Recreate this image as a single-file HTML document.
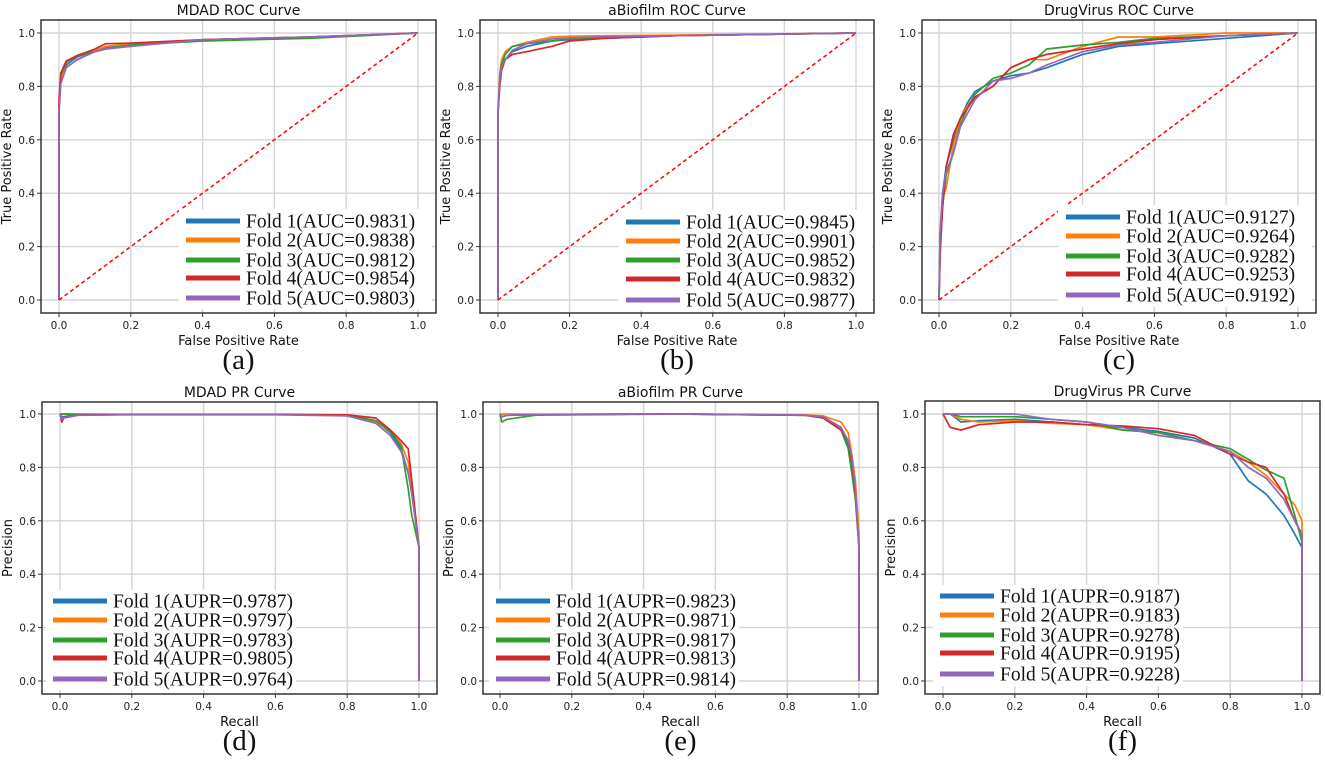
<!DOCTYPE html>
<html><head><meta charset="utf-8"><style>
html,body{margin:0;padding:0;background:#fff;}
svg{display:block;}
</style></head><body>
<svg id="fig" width="1325" height="762" viewBox="0 0 1325 762" xmlns="http://www.w3.org/2000/svg"></svg>
<script>
// ---------- data ----------
const foldNames = ["Fold 1", "Fold 2", "Fold 3", "Fold 4", "Fold 5"];
const ticks = [0, 0.2, 0.4, 0.6, 0.8, 1.0];
const tickLabels = ["0.0", "0.2", "0.4", "0.6", "0.8", "1.0"];

const aucMDAD = ["0.9831", "0.9838", "0.9812", "0.9854", "0.9803"];
const aucBio = ["0.9845", "0.9901", "0.9852", "0.9832", "0.9877"];
const aucVirus = ["0.9127", "0.9264", "0.9282", "0.9253", "0.9192"];
const auprMDAD = ["0.9787", "0.9797", "0.9783", "0.9805", "0.9764"];
const auprBio = ["0.9823", "0.9871", "0.9817", "0.9813", "0.9814"];
const auprVirus = ["0.9187", "0.9183", "0.9278", "0.9195", "0.9228"];

const rocMDADx = [0, 0, 0.005, 0.02, 0.05, 0.1, 0.13, 0.2, 0.4, 0.7, 1];
const rocMDADy = [
  [0, 0.72, 0.82, 0.88, 0.91, 0.935, 0.945, 0.955, 0.975, 0.985, 1],
  [0, 0.7, 0.83, 0.87, 0.9, 0.935, 0.95, 0.96, 0.975, 0.985, 1],
  [0, 0.72, 0.84, 0.89, 0.915, 0.93, 0.94, 0.955, 0.97, 0.98, 1],
  [0, 0.75, 0.85, 0.895, 0.915, 0.94, 0.96, 0.962, 0.975, 0.985, 1],
  [0, 0.7, 0.81, 0.87, 0.9, 0.93, 0.94, 0.95, 0.975, 0.985, 1]
];
const rocBiox = [0, 0, 0.005, 0.01, 0.02, 0.04, 0.08, 0.15, 0.2, 0.3, 0.5, 1];
const rocBioy = [
  [0, 0.7, 0.82, 0.87, 0.9, 0.93, 0.95, 0.97, 0.975, 0.985, 0.99, 1],
  [0, 0.72, 0.85, 0.9, 0.93, 0.95, 0.965, 0.985, 0.988, 0.99, 0.992, 1],
  [0, 0.7, 0.83, 0.88, 0.92, 0.95, 0.96, 0.97, 0.978, 0.98, 0.99, 1],
  [0, 0.7, 0.8, 0.86, 0.9, 0.92, 0.93, 0.95, 0.97, 0.98, 0.99, 1],
  [0, 0.7, 0.82, 0.87, 0.9, 0.935, 0.96, 0.978, 0.982, 0.986, 0.99, 1]
];
const rocVirusx = [0, 0.003, 0.01, 0.02, 0.04, 0.06, 0.08, 0.1, 0.15, 0.2, 0.25, 0.3, 0.4, 0.5, 0.6, 0.8, 1];
const rocVirusy = [
  [0, 0.25, 0.4, 0.5, 0.6, 0.68, 0.74, 0.78, 0.82, 0.84, 0.85, 0.87, 0.92, 0.95, 0.96, 0.98, 1],
  [0, 0.15, 0.38, 0.42, 0.58, 0.68, 0.73, 0.76, 0.8, 0.87, 0.9, 0.9, 0.95, 0.985, 0.985, 1, 1],
  [0, 0.2, 0.35, 0.47, 0.55, 0.66, 0.72, 0.77, 0.83, 0.85, 0.88, 0.94, 0.955, 0.965, 0.98, 0.99, 1],
  [0, 0.18, 0.35, 0.5, 0.62, 0.68, 0.72, 0.76, 0.8, 0.87, 0.9, 0.92, 0.94, 0.96, 0.975, 0.99, 1],
  [0, 0.25, 0.4, 0.48, 0.55, 0.65, 0.7, 0.75, 0.82, 0.83, 0.85, 0.88, 0.93, 0.955, 0.965, 0.99, 1]
];
const prMDADx = [0, 0.005, 0.01, 0.05, 0.2, 0.6, 0.8, 0.88, 0.92, 0.95, 0.97, 0.98, 1, 1];
const prMDADy = [
  [1, 0.99, 0.99, 0.998, 0.998, 0.998, 0.995, 0.975, 0.93, 0.87, 0.78, 0.72, 0.5, 0],
  [1, 1, 1, 1, 0.998, 0.998, 0.996, 0.97, 0.935, 0.89, 0.82, 0.72, 0.5, 0],
  [1, 1, 1, 0.998, 0.998, 0.998, 0.995, 0.975, 0.935, 0.88, 0.72, 0.62, 0.5, 0],
  [1, 0.97, 0.985, 0.996, 0.998, 0.998, 0.997, 0.985, 0.94, 0.9, 0.87, 0.75, 0.5, 0],
  [1, 0.98, 0.985, 0.995, 0.997, 0.997, 0.993, 0.965, 0.92, 0.86, 0.78, 0.7, 0.5, 0]
];
const prBiox = [0, 0.005, 0.02, 0.1, 0.5, 0.85, 0.9, 0.95, 0.97, 0.98, 0.99, 1, 1];
const prBioy = [
  [1, 0.99, 0.995, 0.998, 1, 0.995, 0.99, 0.95, 0.88, 0.8, 0.7, 0.5, 0],
  [1, 1, 1, 0.999, 1, 0.997, 0.993, 0.97, 0.93, 0.85, 0.75, 0.55, 0],
  [1, 0.97, 0.98, 0.996, 1, 0.995, 0.99, 0.94, 0.87, 0.78, 0.68, 0.5, 0],
  [1, 0.99, 0.995, 0.998, 1, 0.995, 0.985, 0.94, 0.9, 0.82, 0.7, 0.5, 0],
  [1, 0.99, 0.995, 0.998, 1, 0.996, 0.99, 0.95, 0.9, 0.84, 0.72, 0.5, 0]
];
const prVirusx = [0, 0.02, 0.05, 0.1, 0.2, 0.3, 0.4, 0.5, 0.6, 0.7, 0.8, 0.85, 0.9, 0.95, 0.98, 1, 1];
const prVirusy = [
  [1, 1, 0.97, 0.975, 0.98, 0.97, 0.96, 0.95, 0.935, 0.91, 0.85, 0.75, 0.7, 0.62, 0.55, 0.5, 0],
  [1, 1, 0.98, 0.97, 0.975, 0.965, 0.96, 0.94, 0.93, 0.9, 0.86, 0.82, 0.77, 0.7, 0.66, 0.6, 0],
  [1, 1, 0.99, 0.99, 0.99, 0.98, 0.97, 0.94, 0.93, 0.9, 0.87, 0.83, 0.79, 0.76, 0.62, 0.52, 0],
  [1, 0.95, 0.94, 0.96, 0.97, 0.97, 0.96, 0.955, 0.945, 0.92, 0.85, 0.82, 0.8, 0.7, 0.6, 0.55, 0],
  [1, 1, 1, 1, 1, 0.98, 0.97, 0.95, 0.92, 0.9, 0.86, 0.8, 0.76, 0.68, 0.6, 0.55, 0]
];

// ---------- layout ----------
const colors = ["#1f77b4", "#ff7f0e", "#2ca02c", "#d62728", "#9467bd"];
const panels = [
  {id:"a", title:"MDAD ROC Curve", xl:"False Positive Rate", yl:"True Positive Rate", box:[41,20,436,313], x0:59, x1:418, yTop:33, yBot:300, xs:rocMDADx, ys:rocMDADy, vals:aucMDAD, key:"AUC", diag:true, leg:[179,209,432,309], lx:186, ly:[221,240,260,278,298]},
  {id:"b", title:"aBiofilm ROC Curve", xl:"False Positive Rate", yl:"True Positive Rate", box:[480,20,874,313], x0:498, x1:856, yTop:33, yBot:300, xs:rocBiox, ys:rocBioy, vals:aucBio, key:"AUC", diag:true, leg:[618,210,872,310], lx:626, ly:[222,241,260,279,300]},
  {id:"c", title:"DrugVirus ROC Curve", xl:"False Positive Rate", yl:"True Positive Rate", box:[922,20,1316,313], x0:939, x1:1298, yTop:33, yBot:300, xs:rocVirusx, ys:rocVirusy, vals:aucVirus, key:"AUC", diag:true, leg:[1058,205,1312,307], lx:1066, ly:[217,236,256,274,295]},
  {id:"d", title:"MDAD PR Curve", xl:"Recall", yl:"Precision", box:[42,402,437,694], x0:60, x1:419, yTop:414, yBot:681, xs:prMDADx, ys:prMDADy, vals:auprMDAD, key:"AUPR", diag:false, leg:[46,590,296,690], lx:53, ly:[601,620,640,658,679]},
  {id:"e", title:"aBiofilm PR Curve", xl:"Recall", yl:"Precision", box:[483,402,878,694], x0:500, x1:859, yTop:414, yBot:681, xs:prBiox, ys:prBioy, vals:auprBio, key:"AUPR", diag:false, leg:[489,590,739,690], lx:496, ly:[601,620,640,658,679]},
  {id:"f", title:"DrugVirus PR Curve", xl:"Recall", yl:"Precision", box:[925,401,1320,694], x0:943, x1:1302, yTop:414, yBot:681, xs:prVirusx, ys:prVirusy, vals:auprVirus, key:"AUPR", diag:false, leg:[933,585,1183,686], lx:940, ly:[596,615,635,653,674]}
];

const NS = "http://www.w3.org/2000/svg";
const svg = document.getElementById("fig");
function mk(tag, attrs, parent) {
  const e = document.createElementNS(NS, tag);
  for (const k in attrs) e.setAttribute(k, attrs[k]);
  (parent || svg).appendChild(e);
  return e;
}
const SANS = "DejaVu Sans, Liberation Sans, sans-serif";

panels.forEach(p => {
  const g = mk("g", {});
  
  
  const sx = v => p.x0 + v * (p.x1 - p.x0);
  const sy = v => p.yBot - v * (p.yBot - p.yTop);
  const [bx0, by0, bx1, by1] = p.box;
  const cx = (bx0 + bx1) / 2;

  ticks.forEach((t, i) => {
    const gl = mk("line", {x1:sx(t), x2:sx(t), y1:by0, y2:by1, stroke:"#d5d5d5", "stroke-width":1.4}, g);
    
    
    const gh = mk("line", {x1:bx0, x2:bx1, y1:sy(t), y2:sy(t), stroke:"#d5d5d5", "stroke-width":1.4}, g);
    
    
  });

  p.ys.forEach((ys, k) => {
    const d = p.xs.map((x, i) => (i ? "L" : "M") + sx(x).toFixed(1) + "," + sy(ys[i]).toFixed(1)).join(" ");
    const path = mk("path", {d:d, fill:"none", stroke:colors[k], "stroke-width":1.7, "stroke-linejoin":"round"}, g);
    
    
  });
  if (p.diag) {
    const dl = mk("line", {x1:sx(0), y1:sy(0), x2:sx(1), y2:sy(1), stroke:"#ff0000", "stroke-width":1.5, "stroke-dasharray":"4,3"}, g);
    
    
  }

  const box = mk("rect", {x:bx0, y:by0, width:bx1 - bx0, height:by1 - by0, fill:"none", stroke:"#333", "stroke-width":1.5}, g);
  
  

  ticks.forEach((t, i) => {
    mk("line", {x1:sx(t), x2:sx(t), y1:by1, y2:by1 + 4, stroke:"#333"}, g);
    mk("line", {x1:bx0 - 4, x2:bx0, y1:sy(t), y2:sy(t), stroke:"#333"}, g);
    const xt = mk("text", {x:sx(t), y:by1 + 16, "text-anchor":"middle", "font-size":10.5, "font-family":SANS, fill:"#222"}, g);
    xt.textContent = tickLabels[i];
    
    
    const yt = mk("text", {x:bx0 - 6, y:sy(t) + 4, "text-anchor":"end", "font-size":10.5, "font-family":SANS, fill:"#222"}, g);
    yt.textContent = tickLabels[i];
    
    
  });

  const tt = mk("text", {x:cx, y:by0 - 5, "text-anchor":"middle", "font-size":14, "font-family":SANS, fill:"#111"}, g);
  tt.textContent = p.title;
  
  
  const xl = mk("text", {x:cx, y:by1 + 32, "text-anchor":"middle", "font-size":13, "font-family":SANS, fill:"#111"}, g);
  xl.textContent = p.xl;
  
  
  const ymid = (by0 + by1) / 2;
  const yl = mk("text", {x:0, y:0, transform:"translate(" + (bx0 - 30) + "," + ymid + ") rotate(-90)", "text-anchor":"middle", "font-size":13, "font-family":SANS, fill:"#111"}, g);
  yl.textContent = p.yl;
  
  
  const pl = mk("text", {x:cx, y:by1 + 56, "text-anchor":"middle", "font-size":29, "font-family":"Liberation Serif, serif", fill:"#111"}, g);
  pl.textContent = "(" + p.id + ")";
  
  

  const lg = mk("g", {}, g);
  
  
  const [l0, t0, l1, t1] = p.leg;
  mk("rect", {x:l0, y:t0, width:l1 - l0, height:t1 - t0, fill:"#fff", stroke:"none"}, lg);
  p.vals.forEach((v, k) => {
    const sw = mk("line", {x1:p.lx, x2:p.lx + 54, y1:p.ly[k], y2:p.ly[k], stroke:colors[k], "stroke-width":5}, lg);
    
    
    const lt = mk("text", {x:p.lx + 60, y:p.ly[k] + 6.5, "font-size":19.5, "font-family":"Liberation Serif, serif", fill:"#111"}, lg);
    lt.textContent = foldNames[k] + "(" + p.key + "=" + v + ")";
    
    
  });
});
</script>
</body></html>
